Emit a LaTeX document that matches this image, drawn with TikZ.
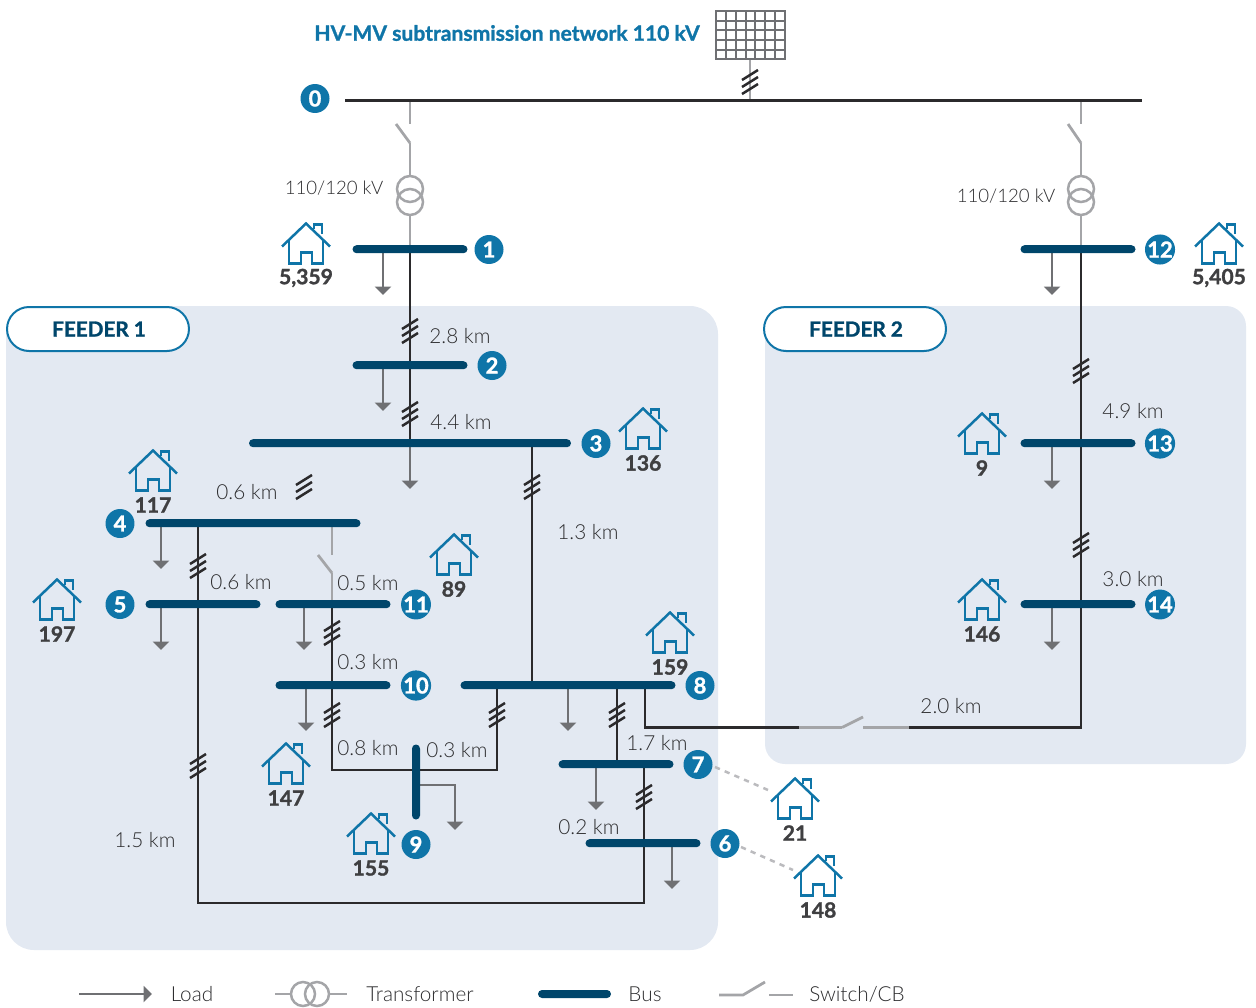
\documentclass[tikz,border=0pt]{standalone}
\usepackage{fontspec}
\setmainfont{Lato}[BoldFeatures={FakeBold=1.3}]
\newfontfamily\lightfont{Lato Light}
\usetikzlibrary{arrows.meta,backgrounds}
\definecolor{busBlue}{HTML}{00466B}
\definecolor{badgeBlue}{HTML}{0F75A8}
\definecolor{panelBlue}{HTML}{E3E9F2}
\definecolor{wireBlack}{HTML}{2B2A2C}
\definecolor{wireGray}{HTML}{A4A5A8}
\definecolor{loadGray}{HTML}{6F7073}
\definecolor{textGray}{HTML}{3F3F41}
\definecolor{lightGray}{HTML}{2C2C2E}
\tikzset{
  houseIcon/.pic={
    \draw[badgeBlue,line width=0.05cm] (-24,1) -- (0,-22) -- (24,1);
    \draw[badgeBlue,line width=0.05cm] (-17,-6) -- (-17,18) -- (-5,18) -- (-5,7) -- (6,7) -- (6,18) -- (17,18) -- (17,-6);
    \draw[badgeBlue,line width=0.05cm] (8,-17) -- (8,-21) -- (16,-21) -- (16,-12);
  },
  tickMark/.pic={
    \foreach \dy in {-7,0,7}
      \draw[wireBlack,line width=0.05cm] (-8,\dy+5) -- (8,\dy-5);
  }
}
\begin{document}
\begin{tikzpicture}
[x=0.02cm,y=-0.02cm,
  lineDecorate/.style={wireBlack,line width=0.055cm},
  grayDecorate/.style={wireGray,line width=0.055cm},
  loadDecorate/.style={loadGray,line width=0.05cm,-{Triangle[width=0.32cm,length=0.17cm]}},
  busDecorate/.style={shape=rectangle,fill=busBlue,inner sep=0pt,rounded corners=0.08cm},
  badgeDecorate/.style={shape=circle,fill=badgeBlue,text=white,inner sep=0pt,minimum size=0.58cm,font=\fontsize{12.5}{12.5}\selectfont\bfseries},
  countDecorate/.style={text=textGray,inner sep=0pt,font=\fontsize{12}{12}\selectfont\bfseries},
  textDecorate/.style={text=lightGray,inner sep=0pt,font=\fontsize{11.8}{11.8}\lightfont\selectfont},
  feederDecorate/.style={shape=rectangle,draw=badgeBlue,fill=white,line width=0.04cm,rounded corners=0.44cm,minimum width=3.64cm,minimum height=0.88cm,text=busBlue,font=\fontsize{11.8}{11.8}\selectfont\bfseries},
  xfmrDecorate/.style={shape=circle,draw=wireGray,line width=0.05cm,inner sep=0pt,minimum size=0.52cm}]
\useasboundingbox (0,0) rectangle (1256,1007);
%% buses
\foreach \busname/\x/\y/\len in {
  1/410/249.2/115, 2/410/365.2/115, 3/410/443.2/322, 4/253/523.2/215, 5/203/604.2/115,
  11/333/604.2/115, 10/333/685.2/115, 8/568/685.2/215, 7/616/764.2/115, 6/643/843.2/115,
  12/1078/249.2/115, 13/1078/443.2/115, 14/1078/604.2/115}
{
  \node (bus\busname) at (\x,\y) [busDecorate,minimum width=\len*0.02cm,minimum height=0.16cm] {};
}
\node (bus9) at (416,782) [busDecorate,minimum width=0.16cm,minimum height=1.5cm] {};
%% numbered badges
\foreach \nodename/\x/\y in {
  0/315/98.5, 1/489/249.5, 2/492/365.5, 3/596/443.5, 4/120/523.5, 5/120/604.5, 11/416/604.5,
  10/416/685.5, 9/416/844.5, 8/700/685.5, 7/698/764.5, 6/725/843.5, 12/1160/249.5,
  13/1160/443.5, 14/1160/604.5}
{
  \node (badge\nodename) at (\x,\y) [badgeDecorate] {\nodename};
}
%% junctions
\foreach \nodename/\x/\y in {
  a/345/100.5, b/1142/100.5, c/410/100, d/410/124, e/396/124, f/410/143,
  g/410/249, h/410/443, i/532/443, j/532/685, k/198/523, l/198/903, m/644/903,
  n/644/764, o/332/604, p/332/685, q/332/770, r/416/770, s/497/770, t/497/685,
  u/617/685, v/617/764, w/645/685, x/645/727.5, y/799/727.5, z/842/727.5,
  aa/863/717, ab/863/727.5, ac/909/727.5, ad/1081/727.5, ae/1081/249, af/1081/100,
  ag/1081/124, ah/1068/124, ai/1081/143, aj/332/523, ak/332/555, al/318/555,
  am/332/573, an/416/785, ao/455/785, ap/455/830, aq/750/100, ar/750/59,
  as/715/767, at/768/790, au/741/847, av/793/870}
{
  \coordinate (\nodename) at (\x,\y);
}
%% transformers
\node (xfmr1a) at (410,189) [xfmrDecorate] {};
\node (xfmr1b) at (410,202) [xfmrDecorate] {};
\node (xfmr2a) at (1081,189) [xfmrDecorate] {};
\node (xfmr2b) at (1081,202) [xfmrDecorate] {};
%% panel of the grid
\node (grid) at (750.5,35) [shape=rectangle,draw=loadGray,line width=0.05cm,inner sep=0pt,minimum width=1.38cm,minimum height=0.96cm] {};
\foreach \x in {726,736,746,755,765,775}
  \draw[loadGray,line width=0.045cm] (\x,11) -- (\x,59);
\foreach \y in {21,30,40,50}
  \draw[loadGray,line width=0.045cm] (716,\y) -- (785,\y);
%% feeders
\begin{scope}[on background layer]
  \fill[panelBlue,rounded corners=0.56cm] (6,306) rectangle (718,950);
  \fill[panelBlue,rounded corners=0.4cm] (765,306) rectangle (1246,764);
  \path
  \foreach \startnode/\endnode in {
    g/h, i/j, n/m, o/p, r/q}
  {
    (\startnode) edge[lineDecorate] node {} (\endnode)
  };
  \path
  \foreach \startnode/\endnode in {
    c/d, f/xfmr1a, xfmr1b/g, af/ag, ai/xfmr2a, xfmr2b/ae, aq/ar, aj/ak, am/o,
    e/f, ah/ai, al/am, y/z, z/aa, ab/ac}
  {
    (\startnode) edge[grayDecorate] node {} (\endnode)
  };
  \draw[lineDecorate] (k) -- (l) -- (m) -- (n);
  \draw[lineDecorate] (p) -- (q) -- (s) -- (t);
  \draw[lineDecorate] (w) -- (x) -- (y);
  \draw[lineDecorate] (ac) -- (ad) -- (ae);
  \draw[lineDecorate] (u) -- (v);
  \draw[loadDecorate] (an) -- (ao) -- (ap);
\end{scope}
\draw[wireBlack,line width=0.05cm] (a) -- (b);
%% loads
\foreach \loadname/\x/\y in {
  1/383/249, 2/383/365, 3/410/443, 4/161/523, 5/161/604, 11/304/604, 10/306/685,
  8/568/685, 7/596/764, 6/672/843, 12/1052/249, 13/1052/443, 14/1052/604}
{
  \begin{scope}[on background layer]
    \coordinate (load\loadname) at (\x,\y);
    \coordinate (end\loadname) at (\x,\y+46);
    \draw[loadDecorate] (load\loadname) -- (end\loadname);
  \end{scope}
}
%% tick marks
\foreach \x/\y in {
  750/82, 410/331, 410/414, 532/487, 304/487, 198/566, 332/633, 332/715, 497/715,
  617/715, 644/797, 198/766, 1081/371, 1081/545}
{
  \pic at (\x,\y) {tickMark};
}
%% houses
\foreach \housename/\x/\y/\amount in {
  1/306/278/{5,359}, 12/1219/278/{5,405}, 3/643/463/136, 4/153/505/117, 5/57/634/197,
  11/454/589/89, 8/670/667/159, 10/286/798/147, 9/371/868/155, 7/795/833/21,
  6/818/910/148, 13/982/468/9, 14/982/634/146}
{
  \pic at (\x,\y-32.5) {houseIcon};
  \node (amount\housename) at (\x,\y) [countDecorate] {\amount};
}
\draw[wireGray!75,line width=0.05cm,dashed] (as) -- (at);
\draw[wireGray!75,line width=0.05cm,dashed] (au) -- (av);
%% lengths and other labels
\foreach \labelname/\x/\y/\labeltext in {
  a/460/336/2.8 km, b/461/422/4.4 km, c/247/492/0.6 km, d/241/582/0.6 km,
  e/368/583/0.5 km, f/368/662/0.3 km, g/368/748/0.8 km, h/457/750/0.3 km,
  i/588/532/1.3 km, j/145/840/1.5 km, k/657/743/1.7 km, l/589/827/0.2 km,
  m/951/706/2.0 km, n/1133/411/4.9 km, o/1133/579/3.0 km,
  r/192/994/Load, s/420/994/Transformer, t/645/994/Bus, u/857/994/{Switch/CB}}
{
  \node (label\labelname) at (\x,\y) [textDecorate] {\labeltext};
}
\node (labelp) at (334,188) [textDecorate,font=\fontsize{10.6}{10.6}\lightfont\selectfont] {110/120 kV};
\node (labelq) at (1006,196) [textDecorate,font=\fontsize{10.6}{10.6}\lightfont\selectfont] {110/120 kV};
\node (title) at (507,33) [inner sep=0pt,text=badgeBlue,font=\fontsize{12}{12}\selectfont\bfseries] {HV-MV subtransmission network 110 kV};
\node (feeder1) at (98,329) [feederDecorate] {\hspace{0.04cm}FEEDER 1};
\node (feeder2) at (855,329) [feederDecorate] {\hspace{0.04cm}FEEDER 2};
%% legend
\coordinate (keyLoadA) at (79,994);
\coordinate (keyLoadB) at (152,994);
\draw[loadDecorate] (keyLoadA) -- (keyLoadB);
\node (keyXfmrA) at (303,994) [xfmrDecorate,minimum size=0.48cm] {};
\node (keyXfmrB) at (317,994) [xfmrDecorate,minimum size=0.48cm] {};
\coordinate (keyXfmrC) at (275,994);
\coordinate (keyXfmrD) at (347,994);
\draw[grayDecorate] (keyXfmrC) -- (keyXfmrA);
\draw[grayDecorate] (keyXfmrB) -- (keyXfmrD);
\node (keyBus) at (574.5,994) [busDecorate,minimum width=1.46cm,minimum height=0.16cm] {};
\coordinate (keySwitchA) at (719,995);
\coordinate (keySwitchB) at (743,995);
\coordinate (keySwitchC) at (765,982);
\coordinate (keySwitchD) at (769,995);
\coordinate (keySwitchE) at (793,995);
\draw[grayDecorate] (keySwitchA) -- (keySwitchB) -- (keySwitchC);
\draw[grayDecorate] (keySwitchD) -- (keySwitchE);
\end{tikzpicture}
\end{document}
